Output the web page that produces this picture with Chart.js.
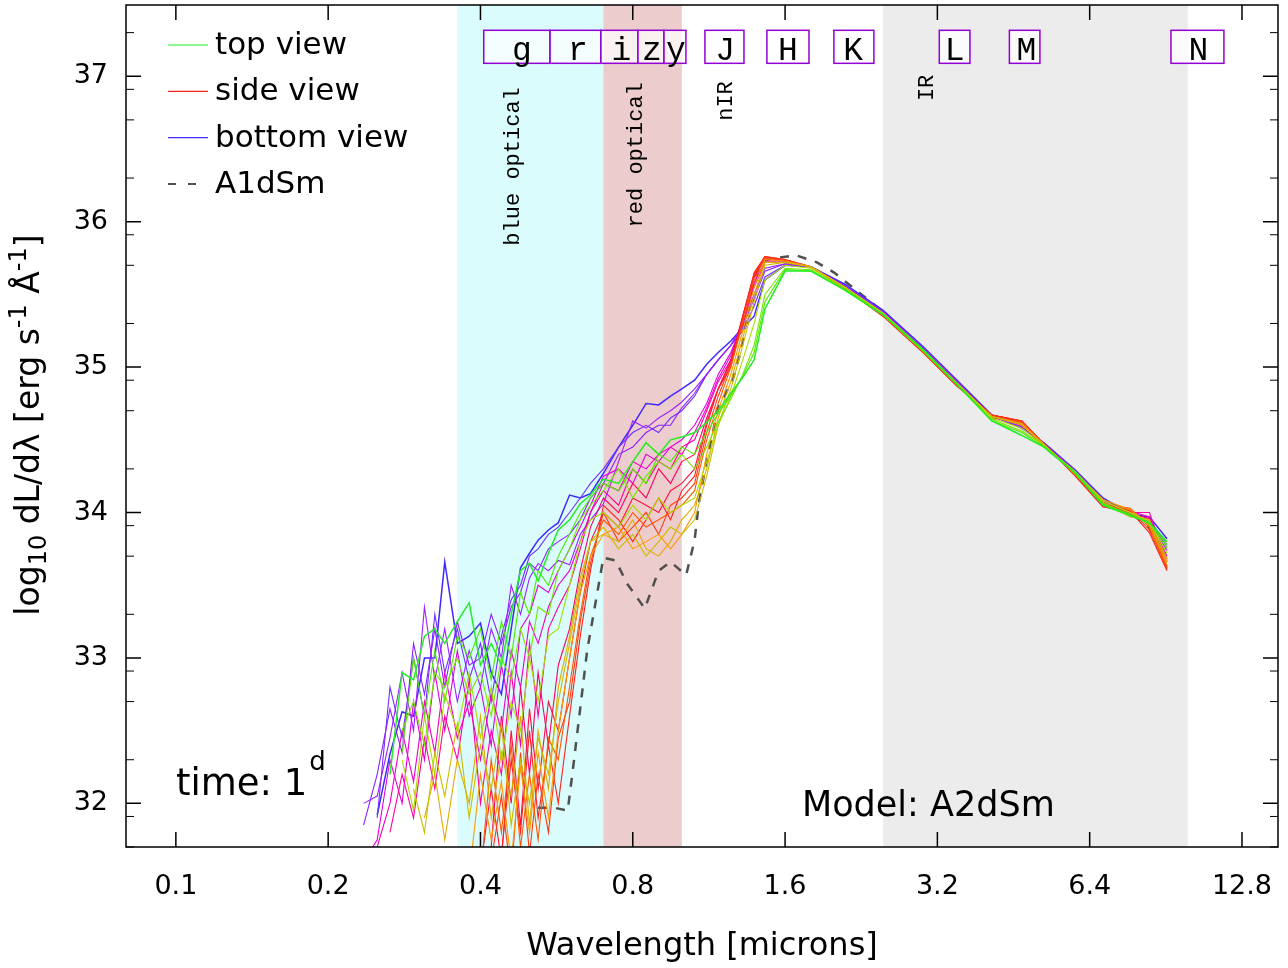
<!DOCTYPE html>
<html>
<head>
<meta charset="utf-8">
<script src="https://cdn.jsdelivr.net/npm/chart.js@4.4.1/dist/chart.umd.min.js"></script>
<style>
  html, body { margin: 0; background: #fff; }
</style>
</head>
<body>
<canvas id="myChart" width="1288" height="968"></canvas>
<script>
// wavelength grid in microns shared by all viewing angles
const wave = [
    0.235, 0.25, 0.265, 0.28, 0.295, 0.31, 0.325, 0.34, 0.36, 0.38,
    0.40, 0.42, 0.44, 0.46, 0.48, 0.50, 0.52, 0.545, 0.57, 0.60,
    0.63, 0.66, 0.70, 0.75, 0.80, 0.85, 0.90, 0.95, 1.00, 1.06,
    1.12, 1.18, 1.25, 1.32, 1.39, 1.46, 1.60, 1.80, 2.1, 2.5,
    3.0, 3.5, 4.1, 4.7, 5.2, 6.0, 6.8, 7.7, 8.4, 9.1
];

// log10 dL/dlambda for each viewing angle, top view (00) -> side view (09) -> bottom view (18)
const view00 = [
    null, null, 32.2, 32.9, 32.85, 33.15, 33.2, 33.1, 33.25, 33.38,
    32.95, 33.1, 32.95, 33.3, 33.6, 33.65, 33.53, 33.72, 33.88, 33.95,
    34.06, 34.12, 34.23, 34.2, 34.35, 34.48, 34.4, 34.5, 34.52, 34.55,
    34.62, 34.7, 34.82, 34.93, 35.05, 35.4, 35.66, 35.66, 35.53, 35.36,
    35.12, 34.88, 34.63, 34.53, 34.45, 34.27, 34.05, 33.98, 33.93, 33.80
];
const view01 = [
    null, null, null, 32.35, 33.0, 32.6, 33.05, 32.7, 33.15, 33.0,
    33.2, 32.85, 33.25, 33.0, 33.45, 33.3, 33.6, 33.5, 33.7, 33.85,
    34.0, 34.1, 34.2, 34.15, 34.3, 34.2, 34.4, 34.35, 34.45, 34.4,
    34.55, 34.68, 34.8, 34.94, 35.1, 35.45, 35.67, 35.66, 35.53, 35.36,
    35.11, 34.88, 34.63, 34.55, 34.45, 34.27, 34.06, 33.98, 33.93, 33.78
];
const view02 = [
    null, null, null, 32.5, 32.7, 32.4, 32.9, 32.8, 33.0, 32.75,
    32.9, 32.6, 33.0, 32.85, 33.2, 33.0, 33.35, 33.3, 33.6, 33.75,
    33.95, 34.05, 34.15, 34.3, 34.1, 34.25, 34.35, 34.3, 34.4, 34.3,
    34.45, 34.62, 34.78, 34.95, 35.15, 35.5, 35.68, 35.67, 35.54, 35.36,
    35.11, 34.88, 34.64, 34.56, 34.46, 34.28, 34.06, 33.99, 33.92, 33.76
];
const view03 = [
    null, null, null, 32.3, 31.95, 32.6, 32.2, 32.75, 32.5, 32.9,
    32.45, 32.8, 32.3, 32.7, 32.5, 33.0, 32.7, 33.15, 33.2, 33.5,
    33.8, 33.95, 34.0, 33.9, 34.05, 33.95, 34.1, 34.0, 34.05, 34.1,
    34.35, 34.6, 34.8, 35.05, 35.3, 35.6, 35.70, 35.68, 35.55, 35.37,
    35.12, 34.89, 34.65, 34.58, 34.46, 34.28, 34.08, 34.00, 33.94, 33.72
];
const view04 = [
    null, null, null, null, 32.1, 31.8, 32.35, 32.05, 32.55, 31.9,
    32.4, 32.1, 32.55, 31.85, 32.3, 32.0, 32.45, 32.2, 32.7, 33.1,
    33.5, 33.8, 33.9, 33.75, 33.85, 33.7, 33.8, 33.9, 33.85, 33.95,
    34.25, 34.6, 34.85, 35.15, 35.45, 35.7, 35.72, 35.69, 35.55, 35.37,
    35.12, 34.89, 34.66, 34.60, 34.47, 34.26, 34.07, 33.97, 33.95, 33.68
];
const view05 = [
    null, null, null, null, null, 31.9, 32.2, 31.75, 32.3, 32.0,
    32.6, 31.9, 32.35, 32.05, 32.6, 31.85, 32.5, 32.1, 32.8, 33.15,
    33.55, 33.8, 33.85, 33.8, 33.95, 33.75, 33.7, 33.8, 33.95, 34.05,
    34.3, 34.65, 34.9, 35.2, 35.5, 35.72, 35.72, 35.69, 35.55, 35.36,
    35.11, 34.88, 34.66, 34.61, 34.46, 34.27, 34.08, 34.00, 33.93, 33.66
];
const view06 = [
    null, null, null, null, null, null, null, null, null, 31.5,
    32.2, 31.75, 32.15, 31.6, 32.25, 31.8, 32.35, 31.9, 32.5, 33.0,
    33.45, 33.7, 33.85, 33.9, 33.75, 33.8, 33.85, 33.75, 33.85, 34.0,
    34.4, 34.7, 34.95, 35.25, 35.55, 35.74, 35.73, 35.69, 35.55, 35.36,
    35.11, 34.88, 34.66, 34.61, 34.46, 34.27, 34.09, 34.02, 33.91, 33.64
];
const view07 = [
    null, null, null, null, null, null, null, null, null, null,
    31.5, 32.3, 31.8, 32.4, 31.7, 32.2, 31.75, 32.45, 32.3, 32.8,
    33.3, 33.7, 33.95, 33.85, 34.0, 33.9, 33.95, 34.0, 34.05, 34.15,
    34.5, 34.75, 35.0, 35.3, 35.6, 35.75, 35.73, 35.69, 35.54, 35.36,
    35.11, 34.88, 34.66, 34.62, 34.47, 34.26, 34.06, 34.03, 33.90, 33.62
];
const view08 = [
    null, null, null, null, null, null, null, null, null, null,
    null, 31.6, 32.05, 31.5, 32.35, 31.65, 32.2, 31.8, 32.45, 32.7,
    33.25, 33.65, 34.0, 33.8, 33.9, 34.0, 33.85, 34.05, 34.1, 34.2,
    34.55, 34.8, 35.02, 35.33, 35.63, 35.76, 35.74, 35.69, 35.54, 35.35,
    35.10, 34.87, 34.67, 34.63, 34.47, 34.25, 34.05, 34.02, 33.88, 33.61
];
const view09 = [
    null, null, null, null, null, null, null, null, null, null,
    null, 31.4, 31.65, 32.3, 31.8, 32.5, 31.9, 32.4, 32.0, 32.6,
    33.15, 33.6, 34.05, 33.95, 33.8, 33.95, 34.1, 33.95, 34.15, 34.25,
    34.6, 34.85, 35.0, 35.35, 35.65, 35.76, 35.74, 35.69, 35.54, 35.35,
    35.10, 34.87, 34.67, 34.63, 34.47, 34.25, 34.04, 34.01, 33.86, 33.60
];
const view10 = [
    null, null, null, null, null, null, null, null, null, null,
    31.55, 32.1, 31.6, 32.5, 31.85, 32.65, 32.1, 32.7, 32.5, 33.0,
    33.45, 33.8, 34.0, 33.9, 34.1, 34.05, 34.0, 34.15, 34.2, 34.3,
    34.62, 34.85, 35.03, 35.35, 35.64, 35.76, 35.73, 35.69, 35.54, 35.35,
    35.10, 34.87, 34.67, 34.63, 34.47, 34.25, 34.04, 34.00, 33.92, 33.62
];
const view11 = [
    null, null, null, null, null, null, null, null, null, null,
    31.5, 31.7, 32.6, 32.0, 32.8, 32.2, 32.9, 32.4, 32.95, 33.2,
    33.6, 33.9, 34.1, 34.0, 34.2, 34.1, 34.3, 34.2, 34.35, 34.4,
    34.65, 34.85, 35.05, 35.35, 35.62, 35.75, 35.73, 35.69, 35.54, 35.36,
    35.11, 34.88, 34.67, 34.62, 34.47, 34.26, 34.05, 33.99, 33.96, 33.63
];
const view12 = [
    null, null, 31.8, 32.2, 31.9, 32.45, 32.1, 32.6, 32.3, 32.85,
    32.0, 32.5, 32.2, 32.9, 32.4, 33.1, 32.6, 33.2, 33.35, 33.5,
    33.75, 34.0, 34.15, 34.05, 34.3, 34.2, 34.35, 34.3, 34.45, 34.5,
    34.7, 34.9, 35.05, 35.3, 35.58, 35.73, 35.73, 35.69, 35.55, 35.36,
    35.11, 34.88, 34.66, 34.61, 34.46, 34.27, 34.06, 34.00, 34.00, 33.66
];
const view13 = [
    null, 31.7, 32.0, 32.5, 32.15, 32.7, 32.35, 32.9, 32.45, 32.7,
    32.3, 32.75, 32.5, 33.05, 32.8, 33.25, 33.1, 33.35, 33.5, 33.6,
    33.8, 34.0, 34.2, 34.15, 34.35, 34.3, 34.4, 34.45, 34.4, 34.55,
    34.72, 34.92, 35.08, 35.3, 35.56, 35.72, 35.72, 35.69, 35.55, 35.36,
    35.11, 34.88, 34.66, 34.60, 34.46, 34.27, 34.07, 34.01, 33.97, 33.68
];
const view14 = [
    31.6, 31.75, 32.3, 32.0, 32.7, 32.3, 32.9, 32.5, 33.05, 32.6,
    32.8, 32.4, 32.95, 32.6, 33.2, 33.3, 33.5, 33.45, 33.6, 33.75,
    33.9, 34.05, 34.25, 34.3, 34.2, 34.4, 34.35, 34.45, 34.5, 34.6,
    34.75, 34.95, 35.1, 35.3, 35.55, 35.72, 35.72, 35.69, 35.55, 35.37,
    35.12, 34.89, 34.66, 34.60, 34.47, 34.28, 34.07, 33.99, 33.94, 33.70
];
const view15 = [
    32.0, 32.05, 32.45, 32.9, 32.5, 33.35, 32.85, 33.2, 32.7, 33.05,
    32.8, 33.2, 33.0, 33.5, 33.3, 33.55, 33.65, 33.6, 33.67, 33.64,
    33.85, 33.95, 34.06, 34.35, 34.63, 34.58, 34.65, 34.7, 34.76, 34.85,
    34.95, 35.05, 35.15, 35.3, 35.5, 35.68, 35.71, 35.69, 35.56, 35.38,
    35.13, 34.90, 34.66, 34.59, 34.47, 34.28, 34.08, 33.98, 33.93, 33.74
];
const view16 = [
    31.85, 32.2, 32.65, 32.35, 33.1, 32.75, 33.2, 32.8, 33.25, 32.95,
    33.0, 33.3, 33.1, 33.35, 33.45, 33.65, 33.6, 33.75, 33.8, 33.85,
    33.95, 34.1, 34.2, 34.4, 34.45, 34.55, 34.6, 34.6, 34.72, 34.82,
    34.95, 35.05, 35.15, 35.28, 35.47, 35.66, 35.71, 35.69, 35.56, 35.38,
    35.13, 34.90, 34.66, 34.59, 34.47, 34.28, 34.08, 33.98, 33.94, 33.76
];
const view17 = [
    null, 31.9, 32.8, 32.45, 33.0, 32.6, 33.3, 32.9, 33.2, 32.85,
    33.1, 32.7, 33.15, 33.4, 33.5, 33.7, 33.75, 33.85, 33.9, 34.0,
    34.1, 34.2, 34.3, 34.45, 34.55, 34.6, 34.55, 34.65, 34.7, 34.8,
    34.95, 35.05, 35.15, 35.25, 35.42, 35.62, 35.70, 35.69, 35.56, 35.38,
    35.13, 34.90, 34.67, 34.58, 34.47, 34.29, 34.09, 33.98, 33.95, 33.78
];
const view18 = [
    null, 31.92, 32.34, 32.63, 32.6, 33.0, 33.0, 33.66, 33.1, 33.15,
    33.24, 32.9, 32.75, 33.2, 33.62, 33.72, 33.81, 33.88, 33.93, 34.12,
    34.1, 34.13, 34.27, 34.45, 34.6, 34.75, 34.74, 34.8, 34.85, 34.91,
    35.02, 35.1, 35.18, 35.27, 35.35, 35.6, 35.70, 35.69, 35.57, 35.39,
    35.14, 34.91, 34.67, 34.58, 34.48, 34.29, 34.10, 33.99, 33.97, 33.82
];

// comparison model A1dSm
const modelWave = [
    0.52, 0.56, 0.595, 0.61, 0.65, 0.70, 0.74, 0.78, 0.845, 0.90,
    0.95, 1.02, 1.06, 1.08, 1.12, 1.18, 1.26, 1.31, 1.37, 1.43,
    1.54, 1.68, 1.85, 2.0, 2.5, 2.95, 3.54, 4.12, 4.67, 5.12,
    5.9, 6.7, 7.7, 8.3, 9.1
];
const modelLum = [
    31.97, 31.97, 31.95, 32.25, 33.05, 33.69, 33.67, 33.51, 33.34, 33.6,
    33.66, 33.57, 33.81, 34.06, 34.36, 34.72, 34.91, 35.12, 35.5, 35.73,
    35.75, 35.77, 35.72, 35.65, 35.38, 35.14, 34.87, 34.65, 34.62, 34.48,
    34.29, 34.08, 33.99, 33.92, 33.7
];

const xTicks = [0.1, 0.2, 0.4, 0.8, 1.6, 3.2, 6.4, 12.8];
const yTicks = [32, 33, 34, 35, 36, 37];

// shaded wavelength ranges
const bandNames = ['blue optical', 'red optical', 'nIR', 'IR'];
const bandLo = [0.36, 0.70, null, 2.5];
const bandHi = [0.70, 1.00, null, 10.0];
const bandTextX = [0.464, 0.812, 1.222, 3.05];
const bandTextY = [36.38, 36.46, 36.83, 36.92];

// photometric filters
const filterNames = ['g', 'r', 'i', 'z', 'y', 'J', 'H', 'K', 'L', 'M', 'N'];
const filterLo = [0.406, 0.549, 0.692, 0.819, 0.922, 1.111, 1.473, 1.998, 3.228, 4.441, 9.265];
const filterHi = [0.549, 0.692, 0.819, 0.922, 1.019, 1.327, 1.784, 2.397, 3.711, 5.103, 11.79];
const filterTextX = [0.483, 0.623, 0.76, 0.873, 0.973, 1.218, 1.62, 2.18, 3.46, 4.8, 10.5];

const viewSeries = [view00, view01, view02, view03, view04, view05, view06, view07, view08, view09,
                    view10, view11, view12, view13, view14, view15, view16, view17, view18];
const viewColors = ['#22ee22', '#50ea00', '#77e600', '#aadd00', '#ccbb00', '#e0aa00', '#ff9900',
                    '#ff5500', '#ff3a10', '#ff2020', '#ff1040', '#ff0060', '#ff00a0', '#f000c8',
                    '#e000e0', '#a020ff', '#8a20ff', '#7030ff', '#4028ff'];
const TOP = 0, SIDE = 9, BOTTOM = 18;

const bandColors = ['rgb(218, 252, 252)', 'rgb(236, 204, 204)', null, 'rgb(236, 236, 236)'];
const FONT = '"DejaVu Sans", Verdana, sans-serif';
const MONO = '"Liberation Mono", "Courier New", monospace';

const datasets = viewSeries.map((vals, k) => ({
    data: wave.map((w, i) => ({ x: w, y: vals[i] })),
    borderColor: viewColors[k],
    borderWidth: (k === TOP || k === BOTTOM) ? 1.5 : 1.1,
    pointRadius: 0,
    spanGaps: false
}));
datasets.push({
    data: modelWave.map((w, i) => ({ x: w, y: modelLum[i] })),
    borderColor: 'rgb(80, 80, 80)',
    borderWidth: 2.5,
    borderDash: [9, 9],
    pointRadius: 0
});

const underlay = {
    id: 'underlay',
    beforeDatasetsDraw(chart) {
        const { ctx, chartArea: a, scales: { x, y } } = chart;
        ctx.save();
        ctx.beginPath();
        ctx.rect(a.left, a.top, a.right - a.left, a.bottom - a.top);
        ctx.clip();
        bandNames.forEach((name, i) => {
            if (bandLo[i] === null) return;
            const x0 = x.getPixelForValue(bandLo[i]);
            const x1 = x.getPixelForValue(bandHi[i]);
            ctx.fillStyle = bandColors[i];
            ctx.fillRect(x0, a.top, x1 - x0, a.bottom - a.top);
        });
        // filter boxes
        const yTop = y.getPixelForValue(37.316);
        const yBot = y.getPixelForValue(37.089);
        filterNames.forEach((f, i) => {
            const x0 = x.getPixelForValue(filterLo[i]);
            const x1 = x.getPixelForValue(filterHi[i]);
            ctx.fillStyle = 'rgba(255, 255, 255, 0.72)';
            ctx.fillRect(x0, yTop, x1 - x0, yBot - yTop);
            ctx.strokeStyle = '#9400d3';
            ctx.lineWidth = 1.5;
            ctx.strokeRect(x0, yTop, x1 - x0, yBot - yTop);
        });
        ctx.fillStyle = '#000';
        ctx.font = '33px ' + MONO;
        ctx.textAlign = 'center';
        ctx.textBaseline = 'alphabetic';
        filterNames.forEach((f, i) => {
            ctx.fillText(f, x.getPixelForValue(filterTextX[i]), y.getPixelForValue(37.11));
        });
        // band labels, rotated
        ctx.font = '22px ' + MONO;
        ctx.textBaseline = 'middle';
        bandNames.forEach((name, i) => {
            ctx.save();
            ctx.translate(x.getPixelForValue(bandTextX[i]), y.getPixelForValue(bandTextY[i]));
            ctx.rotate(-Math.PI / 2);
            ctx.fillText(name, 0, 0);
            ctx.restore();
        });
        ctx.restore();
    }
};

function drawRich(ctx, parts, x0, y0) {
    let w = 0;
    parts.forEach(p => { ctx.font = p[1] + 'px ' + FONT; w += ctx.measureText(p[0]).width; });
    let cx = x0 - w / 2;
    parts.forEach(p => {
        ctx.font = p[1] + 'px ' + FONT;
        ctx.fillText(p[0], cx, y0 + p[2]);
        cx += ctx.measureText(p[0]).width;
    });
}

const overlay = {
    id: 'overlay',
    afterDraw(chart) {
        const { ctx, chartArea: a, scales: { x, y } } = chart;
        ctx.save();
        ctx.strokeStyle = '#000';
        ctx.lineWidth = 1.5;
        ctx.beginPath();
        xTicks.forEach(v => {
            const px = x.getPixelForValue(v);
            ctx.moveTo(px, a.bottom); ctx.lineTo(px, a.bottom - 15);
            ctx.moveTo(px, a.top); ctx.lineTo(px, a.top + 15);
        });
        yTicks.forEach(v => {
            const py = y.getPixelForValue(v);
            ctx.moveTo(a.left, py); ctx.lineTo(a.left + 15, py);
            ctx.moveTo(a.right, py); ctx.lineTo(a.right - 15, py);
        });
        ctx.stroke();
        ctx.lineWidth = 1;
        ctx.beginPath();
        for (let n = 32; n <= 38; n++) {
            [0.09, 0.30, 0.70].forEach(d => {
                const v = n - d;
                if (v < y.min || v > y.max) return;
                const py = y.getPixelForValue(v);
                ctx.moveTo(a.left, py); ctx.lineTo(a.left + 8, py);
                ctx.moveTo(a.right, py); ctx.lineTo(a.right - 8, py);
            });
        }
        ctx.stroke();
        ctx.lineWidth = 1.5;
        ctx.strokeRect(a.left, a.top, a.right - a.left, a.bottom - a.top);

        // legend
        const legend = [['top view', viewColors[TOP], false], ['side view', viewColors[SIDE], false],
                        ['bottom view', viewColors[BOTTOM], false], ['A1dSm', 'rgb(80, 80, 80)', true]];
        ctx.textAlign = 'left';
        ctx.textBaseline = 'middle';
        ctx.font = '31px ' + FONT;
        legend.forEach((e, i) => {
            const ly = 45 + i * 46.3;
            ctx.strokeStyle = e[1];
            ctx.lineWidth = e[2] ? 2 : 1.2;
            ctx.setLineDash(e[2] ? [8, 12] : []);
            ctx.beginPath();
            ctx.moveTo(168, ly); ctx.lineTo(208, ly);
            ctx.stroke();
            ctx.setLineDash([]);
            ctx.fillStyle = '#000';
            ctx.fillText(e[0], 215, ly + 1);
        });

        // annotations
        ctx.textBaseline = 'alphabetic';
        ctx.fillStyle = '#000';
        ctx.font = '37px ' + FONT;
        ctx.fillText('time: 1', 176, 795);
        const tw = ctx.measureText('time: 1').width;
        ctx.font = '26px ' + FONT;
        ctx.fillText('d', 176 + tw + 2, 770);
        ctx.font = '35px ' + FONT;
        ctx.fillText('Model: A2dSm', 802, 816);

        // axis titles
        ctx.font = '32px ' + FONT;
        ctx.textAlign = 'center';
        ctx.fillText('Wavelength [microns]', (a.left + a.right) / 2, 955);
        ctx.textAlign = 'left';
        ctx.translate(39, 425);
        ctx.rotate(-Math.PI / 2);
        drawRich(ctx, [['log', 33, 0], ['10', 24, 7], [' dL/d\u03bb [erg s', 33, 0], ['-1', 24, -13],
                       [' \u00c5', 33, 0], ['-1', 24, -13], [']', 33, 0]], 0, 0);
        ctx.restore();
    }
};

// keep tick labels from pushing the plot frame inwards
function noPad(s) {
    s.paddingTop = 0;
    s.paddingBottom = 0;
    s.paddingLeft = 0;
    s.paddingRight = 0;
}

new Chart(document.getElementById('myChart'), {
    type: 'line',
    data: { datasets: datasets },
    options: {
        responsive: false,
        animation: false,
        events: [],
        layout: { padding: { top: 5, right: 10, left: 0, bottom: 0 } },
        plugins: {
            legend: { display: false },
            tooltip: { enabled: false }
        },
        scales: {
            x: {
                type: 'logarithmic',
                min: 0.0797,
                max: 15.08,
                grid: { display: false, drawTicks: false },
                border: { display: false },
                afterBuildTicks: s => { s.ticks = xTicks.map(v => ({ value: v })); },
                afterFit: s => { s.height = 121; noPad(s); },
                ticks: {
                    callback: v => String(v),
                    padding: 24,
                    color: '#000',
                    maxRotation: 0,
                    autoSkip: false,
                    font: { size: 27, family: FONT }
                }
            },
            y: {
                type: 'linear',
                min: 31.7,
                max: 37.49,
                grid: { display: false, drawTicks: false },
                border: { display: false },
                afterBuildTicks: s => { s.ticks = yTicks.map(v => ({ value: v })); },
                afterFit: s => { s.width = 126; noPad(s); },
                ticks: {
                    callback: v => String(v),
                    padding: 18,
                    color: '#000',
                    font: { size: 27, family: FONT }
                }
            }
        }
    },
    plugins: [underlay, overlay]
});
</script>
</body>
</html>
